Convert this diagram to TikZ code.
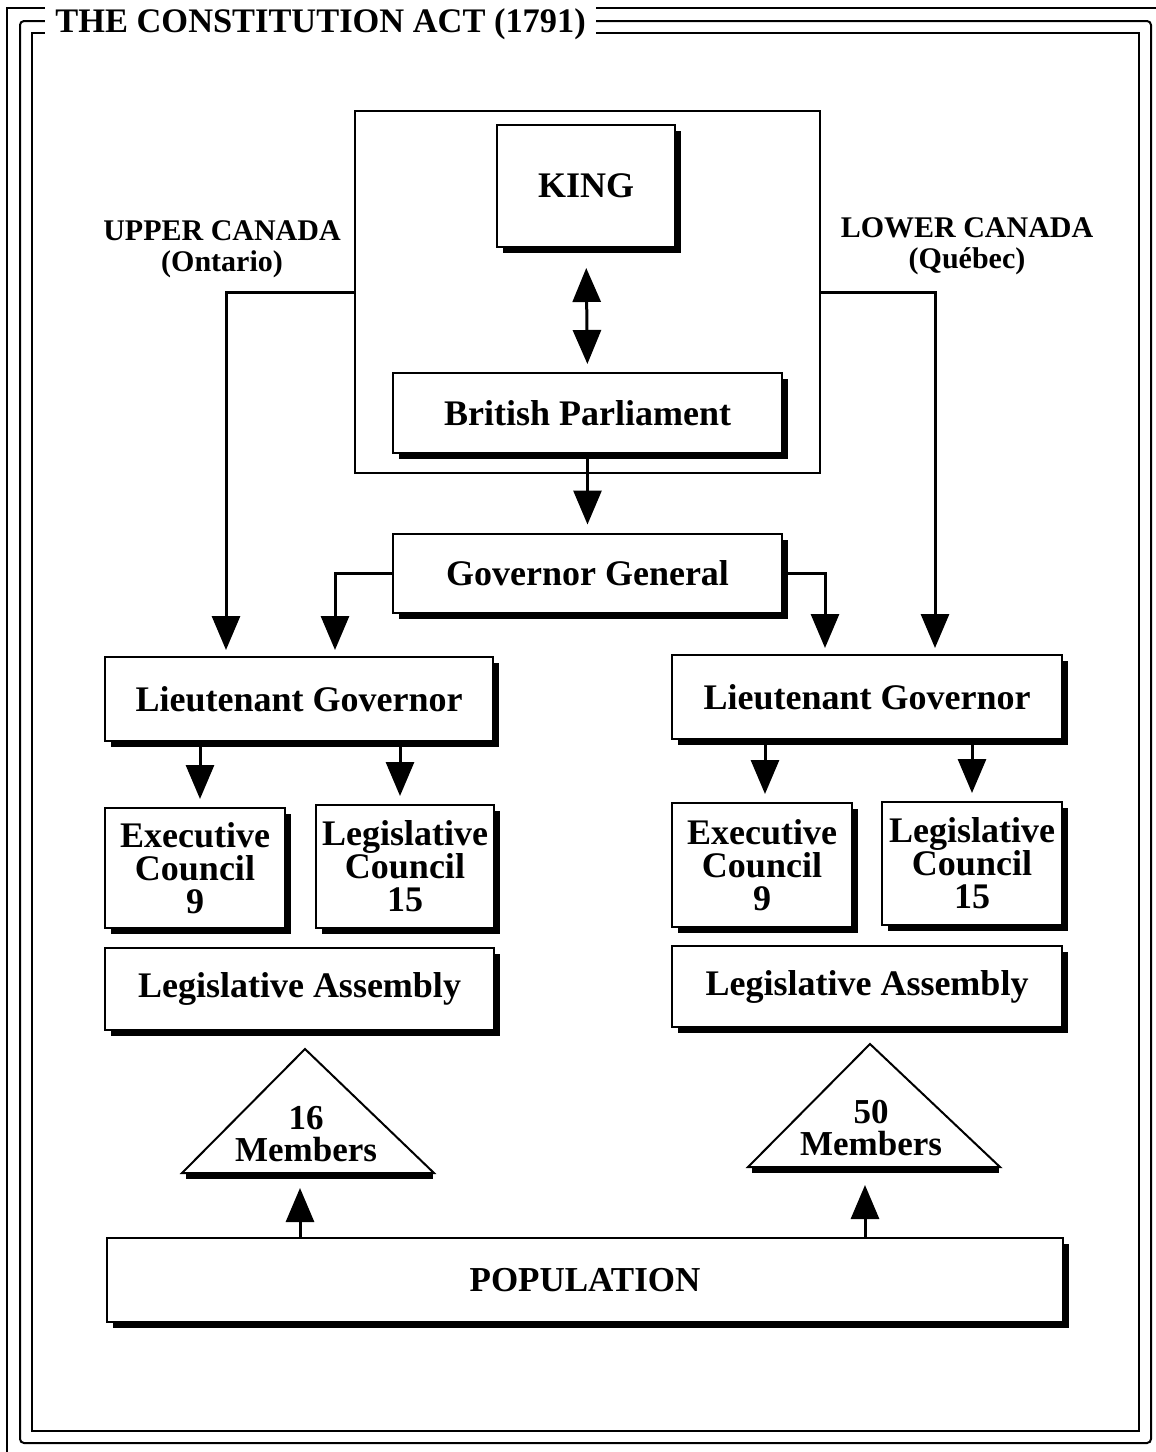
\documentclass[tikz,border=0pt]{standalone}
\usepackage{fontspec}
\setmainfont{Liberation Serif}
\usetikzlibrary{arrows.meta,shadows,calc}

\begin{document}
\begin{tikzpicture}[x=0.5pt,y=-0.5pt,
  frame/.style={line width=1pt},
  box/.style={draw,line width=1pt,fill=white,inner sep=0pt,align=center,
    font=\bfseries\fontsize{18}{16.5}\selectfont,
    drop shadow={shadow xshift=3pt,shadow yshift=-3pt,opacity=1,fill=black}},
  region/.style={align=center,inner sep=0pt,font=\bfseries\fontsize{15}{15.5}\selectfont},
  seats/.style={align=center,inner sep=0pt,font=\bfseries\fontsize{17.5}{16}\selectfont},
  conn/.style={line width=1.5pt},
  arr/.style={conn,-{Triangle[length=17pt,width=14pt]}},
  biarr/.style={conn,{Triangle[length=17pt,width=14pt]}-{Triangle[length=17pt,width=14pt]}}
]
\useasboundingbox (0,0) rectangle (1156,1452);

% triple frame around the chart
\draw[frame] (7,1452) -- (7,8) -- (1156,8);
\draw[frame,rounded corners=2pt] (20,21) rectangle (1151,1443);
\draw[frame] (32,33) rectangle (1139,1431);
\node[fill=white,inner xsep=5pt,inner ysep=4pt,anchor=base west,
      font=\bfseries\fontsize{17.2}{17.2}\selectfont] (title) at (45,32)
      {THE CONSTITUTION ACT (1791)};

% crown and parliament
\node[draw,line width=1pt,minimum width=232.5pt,minimum height=181pt] (crown) at (587.5,292) {};
\node[box,minimum width=89pt,minimum height=61pt] (king) at (586,186) {KING};
\node[box,minimum width=194.5pt,minimum height=40pt] (bp) at (587.5,413) {British Parliament};
\node[box,minimum width=194.5pt,minimum height=39.5pt] (gg) at (587.5,573) {Governor General};

% the two provinces
\node[region] (upper) at (222,249) {UPPER CANADA\\(Ontario)};
\node[region] (lower) at (967,246) {LOWER CANADA\\(Québec)};

\node[box,minimum width=194pt,minimum height=42pt] (lgL) at (299,699) {Lieutenant Governor};
\node[box,minimum width=195pt,minimum height=42pt] (lgR) at (867,697) {Lieutenant Governor};

\node[box,minimum width=90pt,minimum height=60pt] (ecL) at (195,868) {Executive\\Council\\9};
\node[box,minimum width=89pt,minimum height=61.5pt] (lcL) at (405,866.5) {Legislative\\Council\\15};
\node[box,minimum width=90pt,minimum height=62pt] (ecR) at (762,865) {Executive\\Council\\9};
\node[box,minimum width=90pt,minimum height=61.5pt] (lcR) at (972,863.5) {Legislative\\Council\\15};

\node[box,minimum width=194.5pt,minimum height=41pt] (laL) at (299.5,989) {Legislative Assembly};
\node[box,minimum width=195pt,minimum height=40.5pt] (laR) at (867,986.5) {Legislative Assembly};

% elected members
\draw[line width=1pt,fill=white] (305,1049) -- (434,1173) -- (182,1173) -- cycle;
\fill (186,1172) rectangle (433,1179);
\node[seats] (m16) at (306,1134) {16\\Members};
\coordinate (b16) at (300,1179);

\draw[line width=1pt,fill=white] (870,1044) -- (1000,1167) -- (748,1167) -- cycle;
\fill (752,1166) rectangle (999,1173);
\node[seats] (m50) at (871,1128) {50\\Members};
\coordinate (b50) at (865,1173);

\node[box,minimum width=478pt,minimum height=42pt,font=\bfseries\fontsize{17.5}{17.5}\selectfont] (pop) at (585,1280) {POPULATION};

% connectors
\draw[biarr,shorten <=10pt,shorten >=4pt] (king.south) -- (bp.north);
\draw[arr,shorten >=4pt] (bp.south) -- (gg.north);
\draw[arr,shorten >=3pt] (crown.west) -| ([xshift=-36.5pt]lgL.north);
\draw[arr,shorten >=3pt] (crown.east) -| ([xshift=34pt]lgR.north);
\draw[arr,shorten >=3pt] (gg.west) -| ([xshift=18pt]lgL.north);
\draw[arr,shorten >=3pt] (gg.east) -| ([xshift=-21pt]lgR.north);

\draw[arr,shorten >=4pt] ($(lgL.south -| ecL.north)+(5,0)$) -- ($(ecL.north)+(5,0)$);
\draw[arr,shorten >=4pt] ($(lgL.south -| lcL.north)+(-5,0)$) -- ($(lcL.north)+(-5,0)$);
\draw[arr,shorten >=4pt] ($(lgR.south -| ecR.north)+(3,0)$) -- ($(ecR.north)+(3,0)$);
\draw[arr,shorten >=4pt] (lgR.south -| lcR.north) -- (lcR.north);

\draw[arr,shorten >=4.5pt] (pop.north -| b16) -- (b16);
\draw[arr,shorten >=6pt] (pop.north -| b50) -- (b50);
\end{tikzpicture}
\end{document}
